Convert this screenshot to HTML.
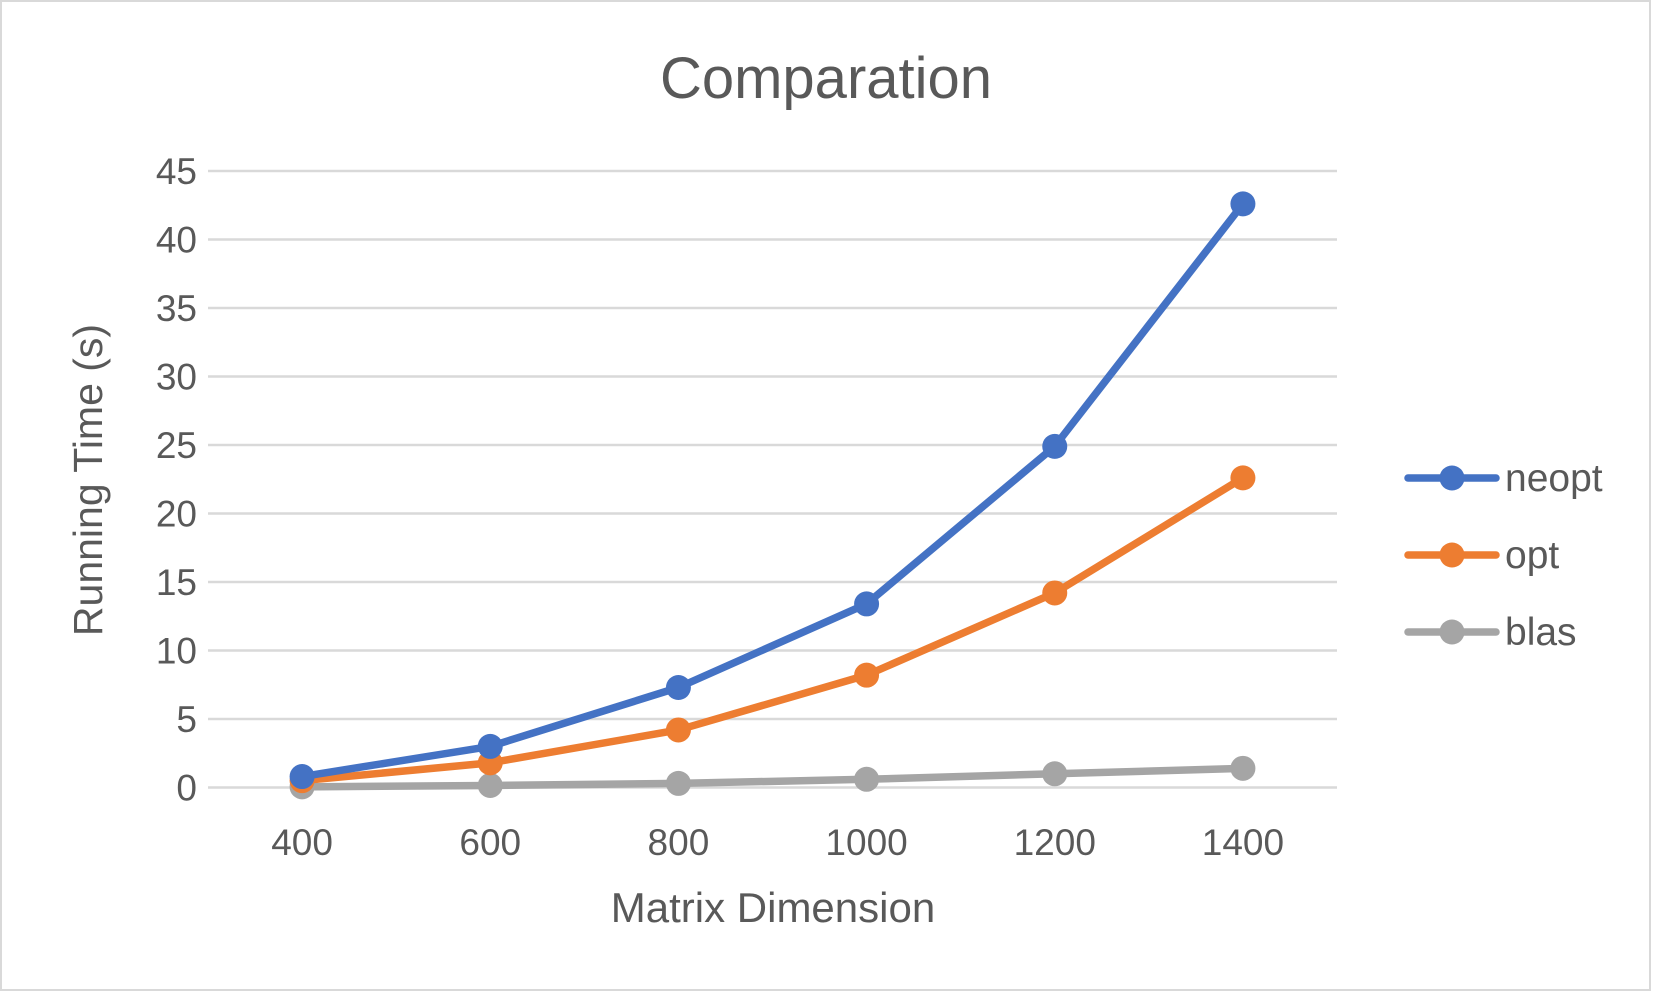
<!DOCTYPE html>
<html><head><meta charset="utf-8"><style>
html,body{margin:0;padding:0;background:#fff;}
svg{display:block;font-family:"Liberation Sans",sans-serif;}
</style></head><body>
<svg id="chart" width="1653" height="993" viewBox="0 0 1653 993" xmlns="http://www.w3.org/2000/svg">
<rect x="1" y="1" width="1649" height="989" fill="#fff" stroke="#d9d9d9" stroke-width="2"/>
<text x="826" y="98" text-anchor="middle" font-size="58" fill="#595959">Comparation</text>
<g id="grid"></g><g id="yticks"></g><g id="xticks"></g><g id="series"></g>
<text transform="translate(102,480) rotate(-90)" text-anchor="middle" font-size="41" fill="#595959">Running Time (s)</text>
<text x="773" y="922" text-anchor="middle" font-size="42" fill="#595959">Matrix Dimension</text>
<g id="legend"></g>
</svg>
<script>
const categories = ["400","600","800","1000","1200","1400"];
const neopt = [0.8, 3.0, 7.3, 13.4, 24.9, 42.6];
const opt = [0.5, 1.8, 4.2, 8.2, 14.2, 22.6];
const blas = [0.05, 0.15, 0.3, 0.6, 1.0, 1.4];
const yTicks = [0,5,10,15,20,25,30,35,40,45];
const seriesNames = ["neopt","opt","blas"];

const NS="http://www.w3.org/2000/svg";
const plotL=208, plotR=1337, yTop=171, yBot=787.5, yMax=45;
const colors=["#4472c4","#ed7d31","#a5a5a5"];
function y(v){return yBot-(v/yMax)*(yBot-yTop);}
function x(i){const step=(plotR-plotL)/categories.length;return plotL+step*(i+0.5);}
function mk(tag,attrs,parent){const e=document.createElementNS(NS,tag);for(const k in attrs)e.setAttribute(k,attrs[k]);parent.appendChild(e);return e;}

const grid=document.getElementById('grid'), yt=document.getElementById('yticks'), xt=document.getElementById('xticks');
yTicks.forEach(t=>{
  const l=mk('line',{x1:plotL,x2:plotR,y1:y(t),y2:y(t),stroke:'#d9d9d9','stroke-width':2.5},grid);
  
  
  const tx=mk('text',{x:197,y:y(t)+13,'text-anchor':'end','font-size':37,fill:'#595959'},yt);
  tx.textContent=t;
  
  
});
categories.forEach((c,i)=>{
  const tx=mk('text',{x:x(i),y:855,'text-anchor':'middle','font-size':37,fill:'#595959'},xt);
  tx.textContent=c;
  
  
});
const sg=document.getElementById('series');
const data=[neopt,opt,blas];
for(let s=data.length-1;s>=0;s--){
  const g=mk('g',{},sg);
  
  
  const pts=data[s].map((v,i)=>x(i)+','+y(v)).join(' ');
  const pl=mk('polyline',{points:pts,fill:'none',stroke:colors[s],'stroke-width':7.5,'stroke-linejoin':'round','stroke-linecap':'round'},g);
  
  
  data[s].forEach((v,i)=>{
    const c=mk('circle',{cx:x(i),cy:y(v),r:12.5,fill:colors[s]},g);
    
    
  });
}
const lg=document.getElementById('legend');
seriesNames.forEach((n,s)=>{
  const ly=478+s*77;
  const g=mk('g',{},lg);
  
  
  mk('line',{x1:1408,x2:1496,y1:ly,y2:ly,stroke:colors[s],'stroke-width':7.5,'stroke-linecap':'round'},g);
  mk('circle',{cx:1452,cy:ly,r:12.5,fill:colors[s]},g);
  const t=mk('text',{x:1505,y:ly+13,'font-size':39,fill:'#595959'},g);
  t.textContent=n;
});
</script>
</body></html>
